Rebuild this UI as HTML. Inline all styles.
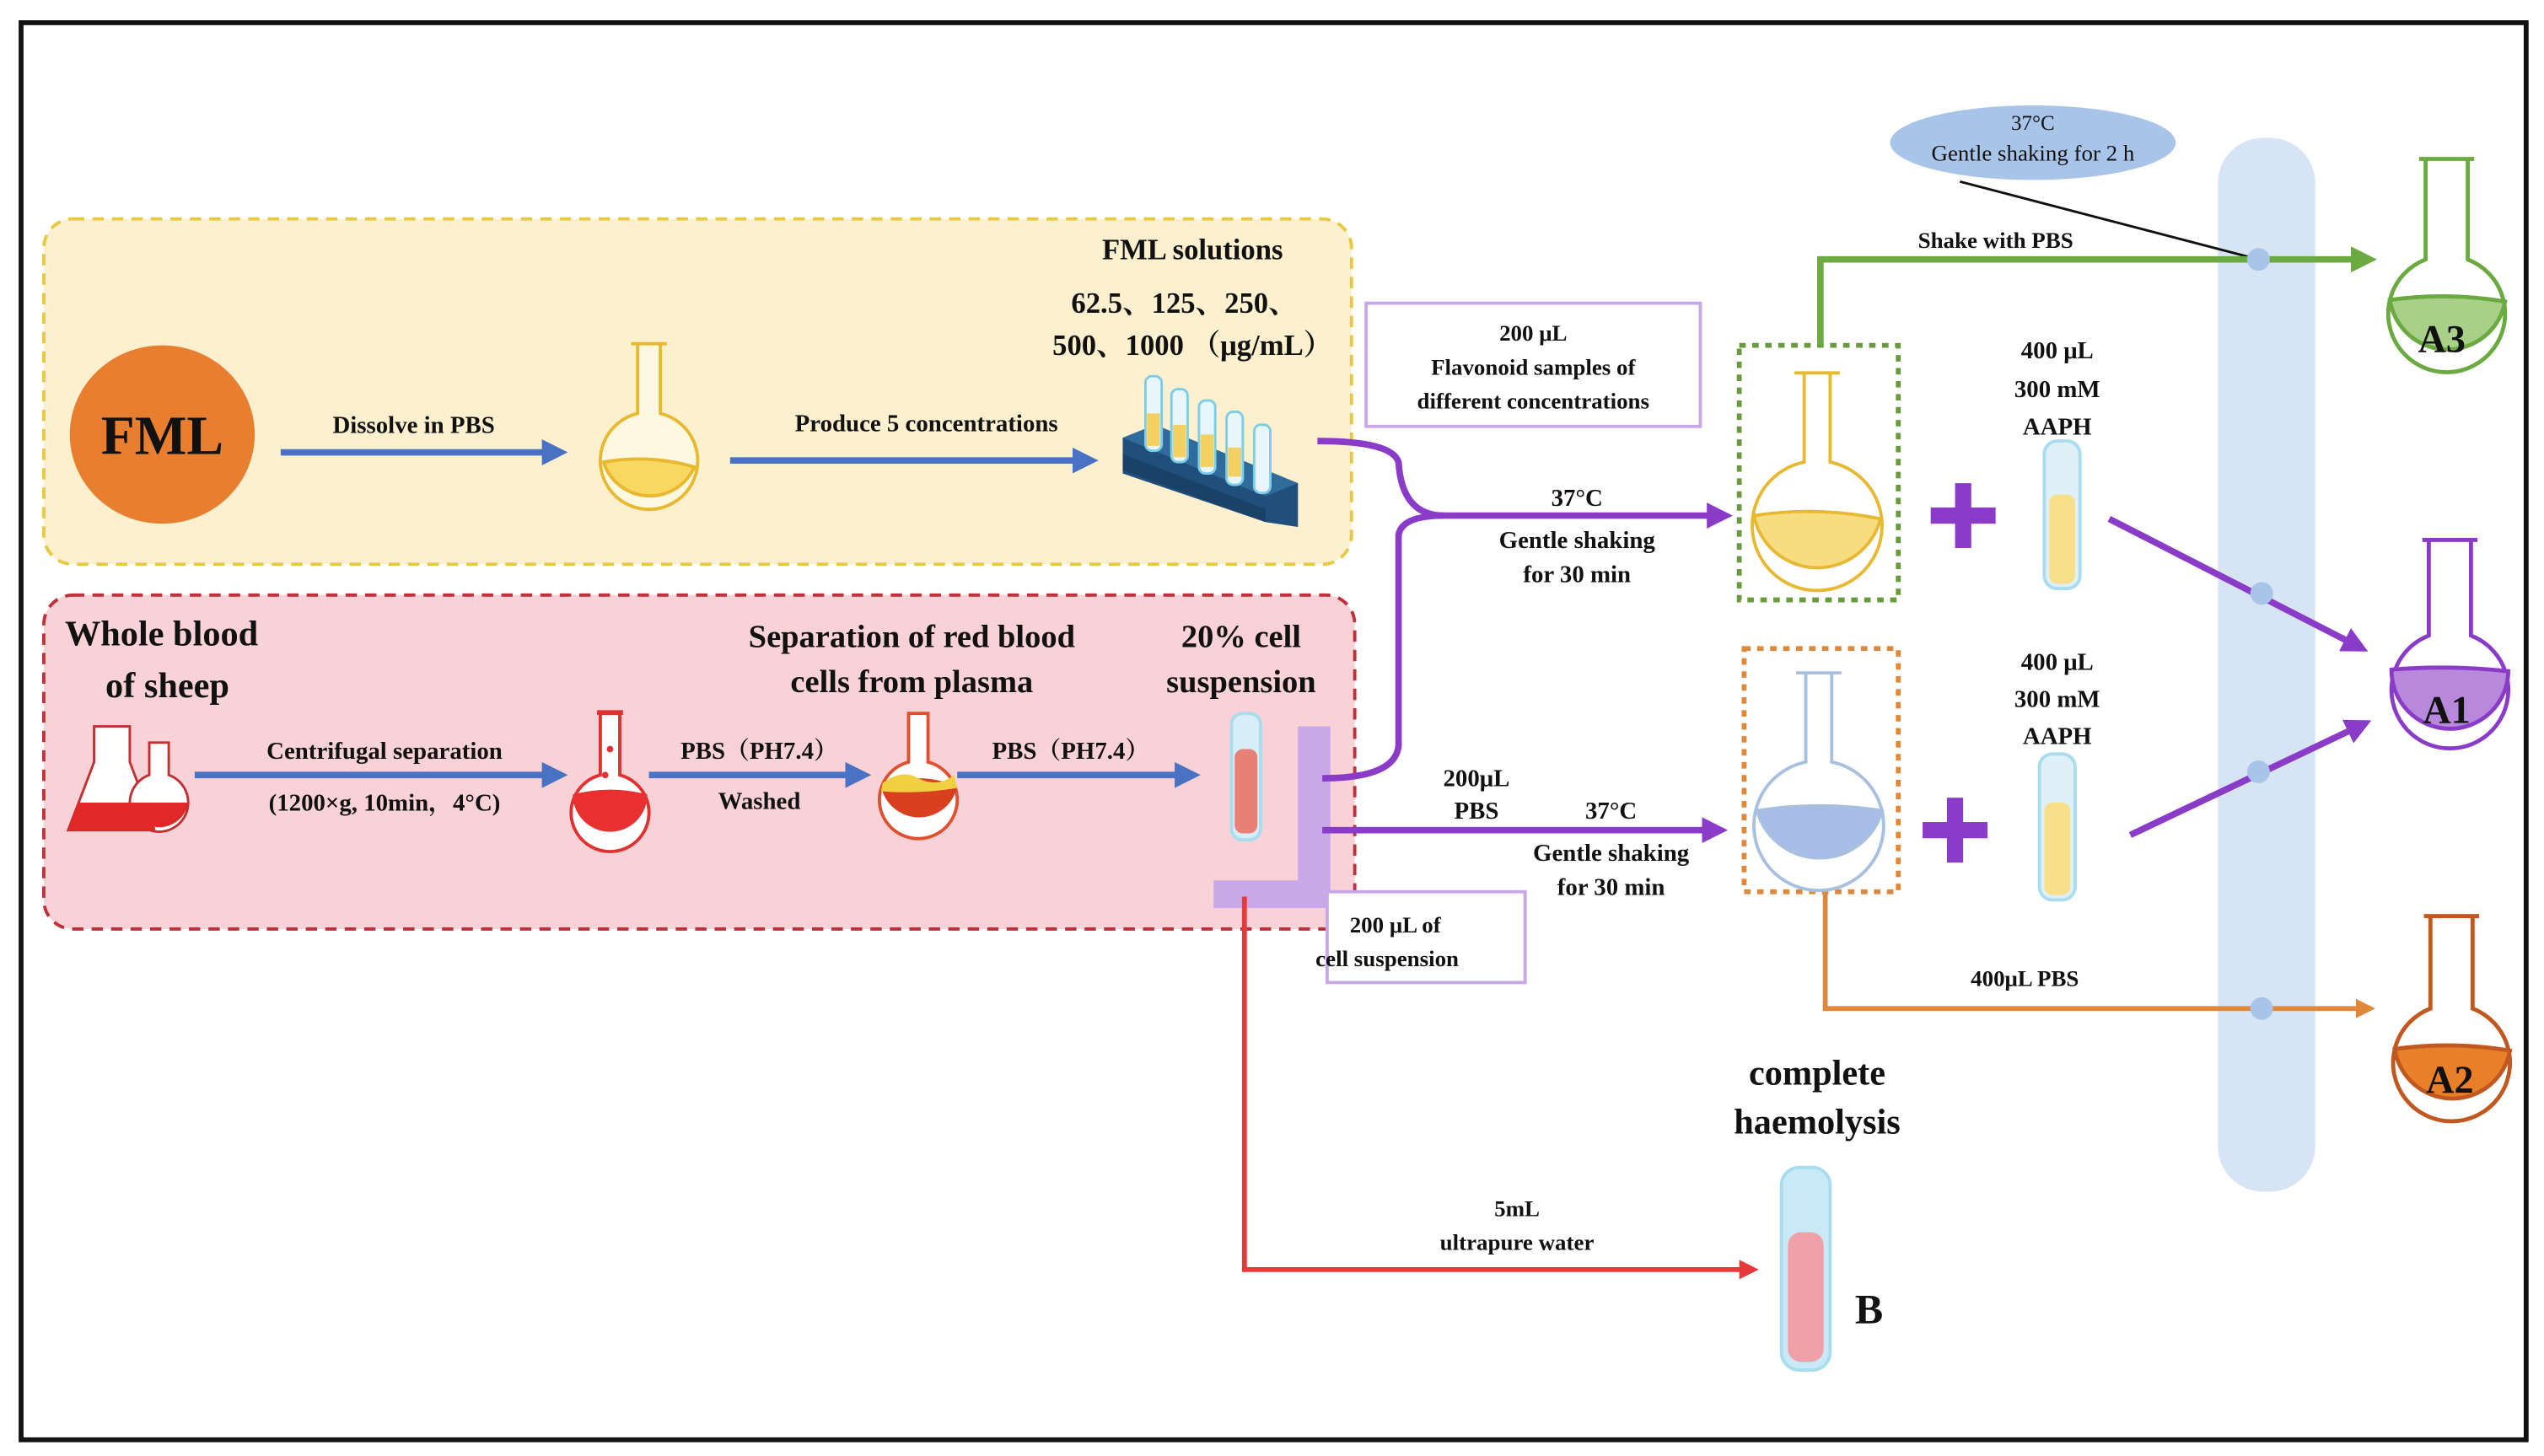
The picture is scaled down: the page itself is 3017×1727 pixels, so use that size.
<!DOCTYPE html>
<html><head><meta charset="utf-8"><style>html,body{margin:0;padding:0;background:#fff}svg{display:block}text{font-family:"Liberation Serif","Noto Serif CJK SC",serif;font-weight:bold;fill:#111;text-anchor:middle}</style></head><body>
<svg width="3017" height="1727" viewBox="0 0 1568 898" preserveAspectRatio="none" xmlns="http://www.w3.org/2000/svg">
<defs>
<marker id="ab" markerWidth="4" markerHeight="4" refX="3" refY="2" orient="auto"><path d="M0,0 L4,2 L0,4z" fill="#4a72c4"/></marker>
<marker id="ap" markerWidth="4" markerHeight="4" refX="3" refY="2" orient="auto"><path d="M0,0 L4,2 L0,4z" fill="#8a3cc8"/></marker>
<marker id="ag" markerWidth="4" markerHeight="4" refX="3" refY="2" orient="auto"><path d="M0,0 L4,2 L0,4z" fill="#6aaa40"/></marker>
<marker id="ao" markerWidth="4" markerHeight="4" refX="3" refY="2" orient="auto"><path d="M0,0 L4,2 L0,4z" fill="#e0883a"/></marker>
<marker id="ar" markerWidth="4" markerHeight="4" refX="3" refY="2" orient="auto"><path d="M0,0 L4,2 L0,4z" fill="#e83838"/></marker>
</defs>
<rect x="0" y="0" width="1568" height="898" fill="#fff"/>
<rect x="13" y="14" width="1544" height="874" fill="none" stroke="#111" stroke-width="3"/>
<rect x="27" y="135" width="806" height="213" rx="18" fill="#fdf0cf" stroke="#e8c840" stroke-width="2" stroke-dasharray="7,5"/>
<rect x="27" y="367" width="808" height="206" rx="18" fill="#f8d2d6" stroke="#c0303a" stroke-width="2" stroke-dasharray="7,5"/>
<rect x="1367" y="85" width="60" height="650" rx="28" fill="#d6e4f4"/>
<ellipse cx="100" cy="268" rx="57" ry="55" fill="#e87f30"/>
<text x="100" y="280" font-size="34">FML</text>
<line x1="173" y1="279" x2="346" y2="279" stroke="#4a72c4" stroke-width="4" marker-end="url(#ab)"/>
<text x="255" y="267" font-size="15">Dissolve in PBS</text>
<g stroke="#e8b830" stroke-width="2"><path d="M393,212 V255 A30,30 0 1 0 407,255 V212" fill="#fff8e0"/><path d="M372,285 Q400,280 428,288 A30,30 0 0 1 372,285z" fill="#f8d860"/><line x1="389" y1="212" x2="411" y2="212"/></g>
<line x1="450" y1="284" x2="673" y2="284" stroke="#4a72c4" stroke-width="4" marker-end="url(#ab)"/>
<text x="571" y="266" font-size="15">Produce 5 concentrations</text>
<!-- rack -->
<g>
<path d="M692,270 L712,262 L800,298 L800,325 L780,322 L692,292z" fill="#1f4f7a"/>
<path d="M692,270 L712,262 L800,298 L780,306z" fill="#2f6c9c"/>
<g stroke="#7ccde8" stroke-width="1.5" fill="#e8f6fb"><rect x="706" y="232" width="10" height="46" rx="4"/><rect x="722" y="240" width="10" height="45" rx="4"/><rect x="739" y="247" width="10" height="45" rx="4"/><rect x="756" y="254" width="10" height="45" rx="4"/><rect x="773" y="262" width="10" height="42" rx="4"/></g>
<g fill="#f4d060"><rect x="707" y="255" width="8" height="20"/><rect x="723" y="262" width="8" height="20"/><rect x="740" y="268" width="8" height="20"/><rect x="757" y="276" width="8" height="18"/></g>
<path d="M692,280 L780,314 L780,322 L692,290z" fill="#1a4268"/>
</g>
<text x="735" y="160" font-size="18">FML solutions</text>
<text x="730" y="193" font-size="18">62.5、125、250、</text>
<text x="735" y="219" font-size="18">500、1000 （μg/mL）</text>
<text x="40" y="398" font-size="22" style="text-anchor:start">Whole blood</text>
<text x="65" y="430" font-size="22" style="text-anchor:start">of sheep</text>
<g stroke="#c03030" stroke-width="1.5" fill="#fff"><path d="M58,448 V470 L42,512 H96 L80,470 V448z"/><path d="M92,458 V478 A18,18 0 1 0 104,478 V458z"/></g>
<path d="M48,495 L90,495 L96,512 H42z" fill="#e02828"/><path d="M82,495 L116,495 A18,18 0 0 1 82,500z" fill="#e02828"/>
<line x1="120" y1="478" x2="346" y2="478" stroke="#4a72c4" stroke-width="4" marker-end="url(#ab)"/>
<text x="237" y="468" font-size="15">Centrifugal separation</text>
<text x="237" y="500" font-size="15">(1200×g, 10min，4°C)</text>
<g><path d="M370,440 V478 A24,24 0 1 0 382,478 V440z" fill="#fff" stroke="#e03030" stroke-width="2"/><path d="M353,490 Q376,484 399,490 A23,23 0 0 1 353,490z" fill="#e83030"/><circle cx="376" cy="462" r="2" fill="#e83030"/><circle cx="373" cy="478" r="2" fill="#e83030"/><rect x="368" y="438" width="16" height="3" fill="#e03030"/></g>
<line x1="400" y1="478" x2="533" y2="478" stroke="#4a72c4" stroke-width="4" marker-end="url(#ab)"/>
<text x="468" y="468" font-size="15">PBS（PH7.4）</text>
<text x="468" y="499" font-size="15">Washed</text>
<g><path d="M560,440 V470 A24,24 0 1 0 572,470 V440z" fill="#fff" stroke="#e05030" stroke-width="2"/><path d="M543,485 Q566,475 590,485 A24,24 0 0 1 543,485z" fill="#d84020"/><path d="M544,483 Q556,474 566,480 Q578,486 588,478 L590,486 Q566,490 543,488z" fill="#f0d040"/></g>
<line x1="590" y1="478" x2="736" y2="478" stroke="#4a72c4" stroke-width="4" marker-end="url(#ab)"/>
<text x="660" y="468" font-size="15">PBS（PH7.4）</text>
<text x="562" y="399" font-size="20">Separation of red blood</text>
<text x="562" y="427" font-size="20">cells from plasma</text>
<text x="765" y="399" font-size="20">20% cell</text>
<text x="765" y="427" font-size="20">suspension</text>
<rect x="759" y="440" width="18" height="78" rx="7" fill="#d8eef6" stroke="#a8dcee" stroke-width="2"/>
<rect x="761" y="462" width="14" height="52" rx="5" fill="#e88078"/>
<path d="M800,448 H820 V560 H748 V543 H800z" fill="#c8a8e8"/>
<rect x="818" y="550" width="122" height="56" fill="#fff" stroke="#c8a8e8" stroke-width="2"/>
<text x="860" y="575" font-size="14">200 μL of</text>
<text x="855" y="596" font-size="14">cell suspension</text>
<g fill="none" stroke="#8a3cc8" stroke-width="4">
<path d="M812,272 Q858,272 862,285 Q864,318 890,318 H1064" marker-end="url(#ap)"/>
<path d="M815,480 Q860,480 862,460 V330 Q864,318 890,318"/>
<path d="M815,512 H1061" marker-end="url(#ap)"/>
<path d="M1300,320 L1456,400" marker-end="url(#ap)"/>
<path d="M1313,515 L1458,446" marker-end="url(#ap)"/>
</g>
<rect x="842" y="187" width="206" height="76" fill="#fff" stroke="#c8a8e8" stroke-width="2"/>
<text x="945" y="210" font-size="14">200 μL</text>
<text x="945" y="231" font-size="14">Flavonoid samples of</text>
<text x="945" y="252" font-size="14">different concentrations</text>
<text x="972" y="312" font-size="15">37°C</text>
<text x="972" y="338" font-size="15">Gentle shaking</text>
<text x="972" y="359" font-size="15">for 30 min</text>
<text x="910" y="485" font-size="15">200μL</text>
<text x="910" y="505" font-size="15">PBS</text>
<text x="993" y="505" font-size="15">37°C</text>
<text x="993" y="531" font-size="15">Gentle shaking</text>
<text x="993" y="552" font-size="15">for 30 min</text>
<rect x="1072" y="213" width="98" height="157" fill="none" stroke="#6a9a40" stroke-width="3" stroke-dasharray="4,4"/>
<g stroke="#e8b830" stroke-width="2"><path d="M1112,230 V285 A40,40 0 1 0 1128,285 V230" fill="#fff"/><path d="M1081,318 Q1120,312 1159,320 A40,40 0 0 1 1081,318z" fill="#f8dc80"/><line x1="1106" y1="230" x2="1134" y2="230"/></g>
<rect x="1075" y="400" width="95" height="150" fill="none" stroke="#e0883a" stroke-width="3" stroke-dasharray="4,4"/>
<g stroke="#a8c0e0" stroke-width="2"><path d="M1113,415 V470 A40,40 0 1 0 1129,470 V415" fill="#fff"/><path d="M1083,500 Q1121,494 1160,500 A40,40 0 0 1 1083,500z" fill="#a8bce8"/><line x1="1107" y1="415" x2="1135" y2="415"/></g>
<g fill="#8a3cc8"><rect x="1190" y="313" width="40" height="10"/><rect x="1205" y="298" width="10" height="40"/><rect x="1185" y="507" width="40" height="10"/><rect x="1200" y="492" width="10" height="40"/></g>
<text x="1268" y="221" font-size="15">400 μL</text>
<text x="1268" y="245" font-size="15">300 mM</text>
<text x="1268" y="268" font-size="15">AAPH</text>
<rect x="1260" y="272" width="22" height="91" rx="8" fill="#dff0f8" stroke="#a8dcee" stroke-width="2"/>
<rect x="1263" y="305" width="16" height="55" rx="5" fill="#f8e08a"/>
<text x="1268" y="413" font-size="15">400 μL</text>
<text x="1268" y="436" font-size="15">300 mM</text>
<text x="1268" y="459" font-size="15">AAPH</text>
<rect x="1257" y="465" width="22" height="90" rx="8" fill="#dff0f8" stroke="#a8dcee" stroke-width="2"/>
<rect x="1260" y="495" width="16" height="57" rx="5" fill="#f8e08a"/>
<ellipse cx="1253" cy="88" rx="88" ry="23" fill="#a8c4e8"/>
<text x="1253" y="80" font-size="13" style="font-weight:normal">37°C</text>
<text x="1253" y="99" font-size="14" style="font-weight:normal">Gentle shaking for 2 h</text>
<line x1="1208" y1="112" x2="1392" y2="160" stroke="#111" stroke-width="1.5"/>
<path d="M1122,213 V160 H1461" fill="none" stroke="#6aaa40" stroke-width="4" marker-end="url(#ag)"/>
<text x="1230" y="153" font-size="14">Shake with PBS</text>
<path d="M1125,550 V622 H1461" fill="none" stroke="#e0883a" stroke-width="3" marker-end="url(#ao)"/>
<text x="1248" y="608" font-size="14">400μL PBS</text>
<g fill="#a8c4e8"><circle cx="1392" cy="160" r="7"/><circle cx="1394" cy="366" r="7"/><circle cx="1392" cy="476" r="7"/><circle cx="1394" cy="622" r="7"/></g>
<g stroke="#6aaa40" stroke-width="2.5"><path d="M1495,98 V160 A36,36 0 1 0 1521,160 V98" fill="#fff"/><path d="M1473,185 Q1508,180 1544,186 A36,36 0 0 1 1473,185z" fill="#a8d088"/><line x1="1491" y1="98" x2="1525" y2="98"/></g>
<text x="1505" y="217" font-size="24">A3</text>
<g stroke="#8a3cc8" stroke-width="2.5"><path d="M1497,333 V392 A36,36 0 1 0 1523,392 V333" fill="#fff"/><path d="M1474,413 Q1510,410 1546,414 A36,36 0 0 1 1474,413z" fill="#b888dc"/><line x1="1493" y1="333" x2="1527" y2="333"/></g>
<text x="1508" y="446" font-size="24">A1</text>
<g stroke="#c05820" stroke-width="2.5"><path d="M1498,565 V622 A36,36 0 1 0 1524,622 V565" fill="#fff"/><path d="M1476,647 Q1511,642 1547,648 A36,36 0 0 1 1476,647z" fill="#e8802a"/><line x1="1494" y1="565" x2="1528" y2="565"/></g>
<text x="1510" y="674" font-size="24">A2</text>
<path d="M767,553 V783 H1081" fill="none" stroke="#e83838" stroke-width="3" marker-end="url(#ar)"/>
<text x="935" y="750" font-size="14">5mL</text>
<text x="935" y="771" font-size="14">ultrapure water</text>
<text x="1120" y="669" font-size="22">complete</text>
<text x="1120" y="699" font-size="22">haemolysis</text>
<rect x="1098" y="720" width="30" height="125" rx="11" fill="#c8eaf6" stroke="#a8dcee" stroke-width="2"/>
<rect x="1102" y="760" width="22" height="80" rx="8" fill="#f0a0a8"/>
<text x="1152" y="816" font-size="26">B</text>
</svg>
</body></html>
